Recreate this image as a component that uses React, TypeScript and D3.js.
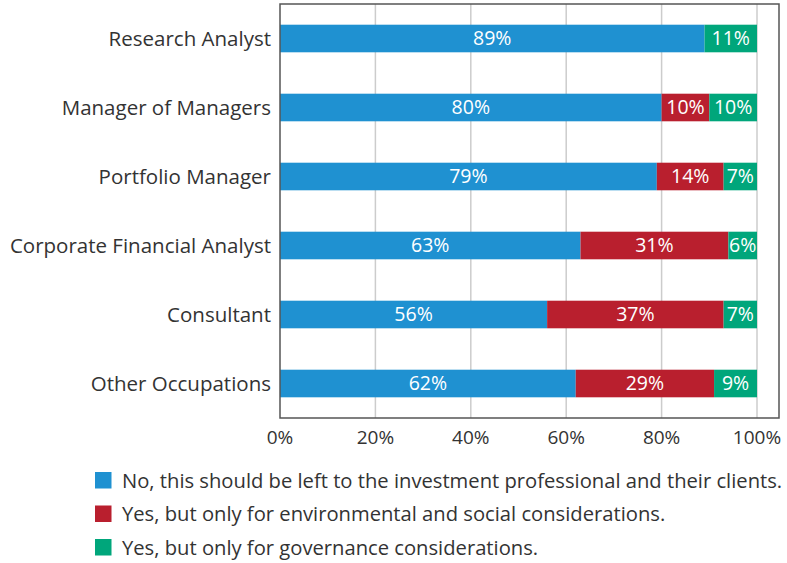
import React, { useEffect, useRef } from "react";
import * as d3 from "d3";

const categories = [
  "Research Analyst",
  "Manager of Managers",
  "Portfolio Manager",
  "Corporate Financial Analyst",
  "Consultant",
  "Other Occupations",
];
const noValues = [89, 80, 79, 63, 56, 62];
const envValues = [0, 10, 14, 31, 37, 29];
const govValues = [11, 10, 7, 6, 7, 9];
const seriesNames = [
  "No, this should be left to the investment professional and their clients.",
  "Yes, but only for environmental and social considerations.",
  "Yes, but only for governance considerations.",
];
const colors = ["#1f91d1", "#b91f2e", "#00a67b"];
const ticks = [0, 20, 40, 60, 80, 100];

const App = () => {
  const ref = useRef<SVGSVGElement>(null);

  useEffect(() => {
    const svg = d3.select(ref.current);
    svg.selectAll("*").remove();

    const width = 787;
    const height = 563;
    const font = "'Open Sans', sans-serif";

    const x = d3.scaleLinear().domain([0, 100]).range([280, 757]);
    const y = d3
      .scaleBand()
      .domain(categories)
      .range([4, 418])
      .paddingInner(0.6)
      .paddingOuter(0.3);

    svg.attr("width", width).attr("height", height).style("font-family", font);

    // gridlines
    svg
      .append("g")
      .selectAll("line")
      .data(ticks.slice(1))
      .join("line")
      .attr("x1", (d) => x(d))
      .attr("x2", (d) => x(d))
      .attr("y1", 4)
      .attr("y2", 418)
      .attr("stroke", "#cccccc")
      .attr("stroke-width", 1.5);

    const rows = categories.map((c, i) => ({
      cat: c,
      vals: [noValues[i], envValues[i], govValues[i]],
    }));

    rows.forEach((r) => {
      let acc = 0;
      r.vals.forEach((v, k) => {
        if (v <= 0) return;
        const x0 = x(acc);
        const x1 = x(acc + v);
        svg
          .append("rect")
          .attr("x", x0)
          .attr("y", y(r.cat)!)
          .attr("width", x1 - x0)
          .attr("height", y.bandwidth())
          .attr("fill", colors[k]);
        svg
          .append("text")
          .attr("x", (x0 + x1) / 2)
          .attr("y", y(r.cat)! + y.bandwidth() / 2)
          .attr("dy", "0.35em")
          .attr("text-anchor", "middle")
          .attr("fill", "#ffffff")
          .attr("font-size", 19.5)
          .text(v + "%");
        acc += v;
      });
    });

    // plot frame
    svg
      .append("rect")
      .attr("x", 280)
      .attr("y", 4)
      .attr("width", 499)
      .attr("height", 414)
      .attr("fill", "none")
      .attr("stroke", "#555555")
      .attr("stroke-width", 1.5);

    // category labels
    svg
      .append("g")
      .selectAll("text")
      .data(categories)
      .join("text")
      .attr("x", 271)
      .attr("y", (d) => y(d)! + y.bandwidth() / 2)
      .attr("dy", "0.35em")
      .attr("text-anchor", "end")
      .attr("fill", "#333333")
      .attr("font-size", 20.5)
      .text((d) => d);

    // x tick labels
    svg
      .append("g")
      .selectAll("text")
      .data(ticks)
      .join("text")
      .attr("x", (d) => x(d))
      .attr("y", 437)
      .attr("dy", "0.35em")
      .attr("text-anchor", "middle")
      .attr("fill", "#333333")
      .attr("font-size", 19)
      .text((d) => d + "%");

    // legend
    const legend = svg
      .append("g")
      .selectAll("g")
      .data(seriesNames)
      .join("g")
      .attr("transform", (_, i) => `translate(95,${472 + i * 33.5})`);
    legend
      .append("rect")
      .attr("width", 16.5)
      .attr("height", 16.5)
      .attr("fill", (_, i) => colors[i]);
    legend
      .append("text")
      .attr("x", 27)
      .attr("y", 8.5)
      .attr("dy", "0.35em")
      .attr("fill", "#333333")
      .attr("font-size", 20.2)
      .text((d) => d);
  }, []);

  return <svg ref={ref} style={{ position: "absolute", left: 0, top: 0 }}></svg>;
};

export default App;
